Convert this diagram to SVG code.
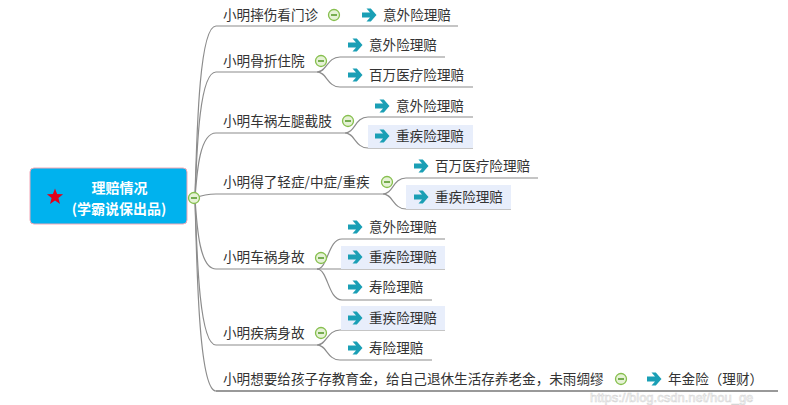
<svg xmlns="http://www.w3.org/2000/svg" xmlns:xlink="http://www.w3.org/1999/xlink" width="788" height="405" viewBox="0 0 788 405">
<style>
.t{font-family:"Noto Sans CJK SC","Noto Sans",sans-serif;font-size:13.6px;fill:#333333}
.rt{font-family:"Noto Sans CJK SC","Noto Sans",sans-serif;font-size:14px;font-weight:bold;fill:#ffffff}
.ln{fill:none;stroke:#8c8c8c;stroke-width:1.2}
.hl{fill:#e8eefb}
.ar{fill:#1a9fb5}
.wm{font-family:"Liberation Sans",Arial,sans-serif;font-size:13px;fill:#ffffff;stroke:#c9c9c9;stroke-width:0.6;opacity:0.75}
</style>
<defs>
<path id="arrow" class="ar" d="M0,-2.6 H8 L4.5,-6.5 H8.8 L14.5,0 L8.8,6.5 H4.5 L8,2.6 H0 Z"/>
<g id="minus">
<circle r="5.5" fill="#e6f2d6" stroke="#86bf4e" stroke-width="1.3"/>
<line x1="-3" y1="0" x2="3" y2="0" stroke="#5b9b2f" stroke-width="1.6"/>
</g>
</defs>
<rect width="788" height="405" fill="#ffffff"/>
<g id="connectors">
<path class="ln" d="M195,198 C197,121 200,26 216,26 L458,26"/>
<path class="ln" d="M195,198 C197,142 200,72 216,72 L317,72"/>
<path class="ln" d="M195,198 C197,170 200,133 216,133 L345,133"/>
<path class="ln" d="M195,198 C200,196 205,194 216,194 L383,194"/>
<path class="ln" d="M195,198 C197,230 200,269 216,269 L317,269"/>
<path class="ln" d="M195,198 C197,264 200,345 216,345 L317,345"/>
<path class="ln" d="M195,198 C197,285 200,391 216,391"/>
<path class="ln" d="M216,391 L778,391" style="stroke-width:1.8;stroke:#999999"/>
<path class="ln" d="M317,72 C327,72 327,57 340,57 L445,57"/>
<path class="ln" d="M317,72 C327,72 327,87 340,87 L473,87"/>
<path class="ln" d="M345,133 C355,133 355,117 368,117 L473,117"/>
<path class="ln" d="M345,133 C355,133 355,148 368,148 L473,148"/>
<path class="ln" d="M383,194 C393,194 393,178 406,178 L538,178"/>
<path class="ln" d="M383,194 C393,194 393,209 406,209 L511,209"/>
<path class="ln" d="M317,269 C328,269 328,239 342,239 L445,239"/>
<path class="ln" d="M317,269 L445,269"/>
<path class="ln" d="M317,269 C328,269 328,300 342,300 L432,300"/>
<path class="ln" d="M317,345 C327,345 327,330 340,330 L445,330"/>
<path class="ln" d="M317,345 C327,345 327,360 340,360 L432,360"/>
</g>
<g id="root">
<rect x="30" y="168" width="157" height="56" rx="4" fill="#00b2ee" stroke="#f2a7b6" stroke-width="1"/>
<polygon fill="#e0001b" points="55,188.5 57.12,194.09 63.08,194.37 58.42,198.11 60,203.88 55,200.6 50,203.88 51.58,198.11 46.92,194.37 52.88,194.09"/>
<text class="rt" x="119.5" y="192.5" text-anchor="middle">理赔情况</text>
<text class="rt" x="119" y="213.5" text-anchor="middle">(学霸说保出品)</text>
<use href="#minus" x="194" y="198"/>
</g>
<g id="b1">
<text class="t" x="223" y="20">小明摔伤看门诊</text>
<use href="#minus" x="334" y="15"/>
</g>
<g id="b1c1">
<use href="#arrow" x="362" y="15"/>
<text class="t" x="383" y="20">意外险理赔</text>
</g>
<g id="b2">
<text class="t" x="223" y="66">小明骨折住院</text>
<use href="#minus" x="321" y="61"/>
</g>
<g id="b2c1">
<use href="#arrow" x="348" y="45"/>
<text class="t" x="369" y="50">意外险理赔</text>
</g>
<g id="b2c2">
<use href="#arrow" x="348" y="75"/>
<text class="t" x="369" y="80">百万医疗险理赔</text>
</g>
<g id="b3">
<text class="t" x="223" y="126">小明车祸左腿截肢</text>
<use href="#minus" x="348" y="121"/>
</g>
<g id="b3c1">
<use href="#arrow" x="375" y="106"/>
<text class="t" x="396" y="111">意外险理赔</text>
</g>
<g id="b3c2">
<rect class="hl" x="368" y="125" width="105" height="23"/>
<use href="#arrow" x="375" y="136"/>
<text class="t" x="396" y="141">重疾险理赔</text>
</g>
<g id="b4">
<text class="t" x="223" y="187">小明得了轻症/中症/重疾</text>
<use href="#minus" x="387" y="182"/>
</g>
<g id="b4c1">
<use href="#arrow" x="414" y="166"/>
<text class="t" x="435" y="171">百万医疗险理赔</text>
</g>
<g id="b4c2">
<rect class="hl" x="406" y="185" width="105" height="24"/>
<use href="#arrow" x="414" y="197"/>
<text class="t" x="435" y="202">重疾险理赔</text>
</g>
<g id="b5">
<text class="t" x="223" y="262">小明车祸身故</text>
<use href="#minus" x="321" y="258"/>
</g>
<g id="b5c1">
<use href="#arrow" x="348" y="227"/>
<text class="t" x="369" y="232">意外险理赔</text>
</g>
<g id="b5c2">
<rect class="hl" x="341" y="246" width="104" height="23"/>
<use href="#arrow" x="348" y="257"/>
<text class="t" x="369" y="262">重疾险理赔</text>
</g>
<g id="b5c3">
<use href="#arrow" x="348" y="287"/>
<text class="t" x="369" y="292">寿险理赔</text>
</g>
<g id="b6">
<text class="t" x="223" y="338">小明疾病身故</text>
<use href="#minus" x="321" y="333"/>
</g>
<g id="b6c1">
<rect class="hl" x="341" y="306" width="104" height="24"/>
<use href="#arrow" x="348" y="318"/>
<text class="t" x="369" y="323">重疾险理赔</text>
</g>
<g id="b6c2">
<use href="#arrow" x="348" y="348"/>
<text class="t" x="369" y="353">寿险理赔</text>
</g>
<g id="b7">
<text class="t" x="223" y="384">小明想要给孩子存教育金，给自己退休生活存养老金，未雨绸缪</text>
<use href="#minus" x="621" y="379"/>
</g>
<g id="b7c1">
<use href="#arrow" x="647" y="379"/>
<text class="t" x="668" y="384">年金险（理财）</text>
</g>
<text class="wm" x="590" y="402">https://blog.csdn.net/hou_ge</text>
</svg>
